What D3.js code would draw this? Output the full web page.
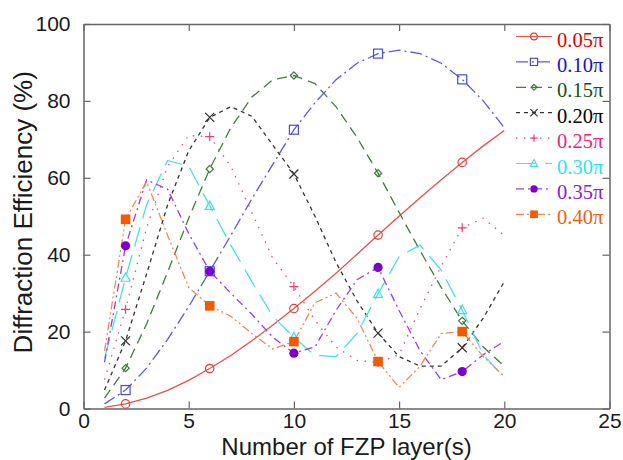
<!DOCTYPE html>
<html>
<head>
<meta charset="utf-8">
<script src="https://cdn.jsdelivr.net/npm/d3@7"></script>
<style>
  body { margin: 0; background: #fff; }
  svg { display: block; }
</style>
</head>
<body>
<svg id="chart" width="623" height="460"></svg>
<script>
// Diffraction efficiency vs number of FZP layers

// x categories and axis ticks
const layers = [1, 2, 3, 4, 5, 6, 7, 8, 9, 10, 11, 12, 13, 14, 15, 16, 17, 18, 19, 20];
const markerLayers = [2, 6, 10, 14, 18];
const xTicks = [0, 5, 10, 15, 20, 25];
const yTicks = [0, 20, 40, 60, 80, 100];
const labels = ["0.05\u03c0", "0.10\u03c0", "0.15\u03c0", "0.20\u03c0", "0.25\u03c0", "0.30\u03c0", "0.35\u03c0", "0.40\u03c0"];

// efficiency (%) per layer count, one array per phase step
const eff005 = [0.3, 1.2, 2.7, 4.7, 7.3, 10.4, 13.8, 17.6, 21.7, 26.0, 30.5, 35.2, 40.1, 45.1, 50.0, 54.8, 59.5, 64.0, 68.3, 72.3];
const eff010 = [1.2, 4.8, 10.5, 18.0, 26.5, 35.7, 45.0, 54.5, 63.5, 72.5, 79.5, 85.5, 89.8, 92.3, 93.2, 92.3, 89.8, 85.6, 80.0, 73.0];
const eff015 = [2.7, 10.5, 22.0, 35.5, 49.5, 62.3, 73.0, 81.0, 85.5, 86.6, 84.5, 78.5, 70.5, 61.2, 51.0, 41.0, 31.5, 22.8, 16.0, 11.0];
const eff020 = [4.8, 17.6, 35.0, 53.0, 67.0, 75.7, 78.5, 76.0, 68.5, 61.0, 50.0, 38.0, 28.0, 19.6, 13.5, 11.0, 11.0, 15.8, 23.5, 33.0];
const eff025 = [7.5, 25.8, 47.0, 63.0, 71.0, 70.7, 63.0, 51.0, 39.0, 31.7, 23.0, 16.0, 12.5, 12.0, 14.0, 26.0, 37.0, 47.0, 49.5, 45.0];
const eff030 = [13.0, 34.0, 53.0, 64.5, 63.0, 52.7, 42.5, 33.0, 24.0, 18.5, 13.8, 13.5, 19.5, 29.8, 39.5, 42.5, 36.0, 25.6, 14.0, 8.0];
const eff035 = [12.0, 42.3, 59.5, 57.0, 45.5, 35.7, 30.0, 24.5, 18.5, 14.4, 16.0, 25.5, 33.5, 36.7, 25.5, 15.0, 7.5, 9.6, 14.0, 17.5];
const eff040 = [15.0, 49.2, 59.0, 45.0, 31.5, 26.7, 24.0, 19.5, 15.5, 17.4, 27.5, 30.0, 23.5, 12.2, 5.5, 11.0, 19.5, 20.0, 13.5, 8.3];

const allSeries = [eff005, eff010, eff015, eff020, eff025, eff030, eff035, eff040];

// drawing styles, same order as labels
const styles = [
  { line: "#e8504a", mark: "#e0403a", text: "#dd0000", dash: null, marker: "circle" },
  { line: "#5a5ae0", mark: "#4a4ad8", text: "#1414c8", dash: "12,4,2,4", marker: "square" },
  { line: "#3f7f3f", mark: "#3a7a3a", text: "#145214", dash: "10,6", marker: "diamond" },
  { line: "#333333", mark: "#333333", text: "#000000", dash: "4,4", marker: "cross" },
  { line: "#ee4a8c", mark: "#ee3a80", text: "#ee2277", dash: "1.5,6.5", marker: "plus" },
  { line: "#48dff0", mark: "#40dcee", text: "#30e2f0", dash: "20,9", marker: "triangle" },
  { line: "#9c3ce0", mark: "#7a00d0", text: "#8a22cc", dash: "8,4,2,4", marker: "dot" },
  { line: "#f08a50", mark: "#f05a00", text: "#f06010", dash: "8,3,2,3,2,3", marker: "fsquare" }
];

const svg = d3.select("#chart");
const x = d3.scaleLinear().domain([0, 25]).range([83.5, 609.5]);
const y = d3.scaleLinear().domain([0, 100]).range([408.5, 24]);

// axes (ticks point inward on all four sides)
const axisColor = "#666";
function styleAxis(g) {
  g.select(".domain").attr("stroke", axisColor).attr("stroke-width", 1.5);
  g.selectAll(".tick line").attr("stroke", axisColor).attr("stroke-width", 1.2);
  g.selectAll(".tick text")
    .attr("fill", "#1a1a1a")
    .style("font-family", "'Liberation Sans', Arial, sans-serif")
    .style("font-size", "21px");
}

svg.append("g")
  .attr("transform", `translate(0,${y(0)})`)
  .call(d3.axisBottom(x).tickValues(xTicks).tickSize(-7).tickSizeOuter(0).tickPadding(5))
  .call(styleAxis);

svg.append("g")
  .attr("transform", `translate(0,${y(100)})`)
  .call(d3.axisTop(x).tickValues(xTicks).tickSize(-7).tickSizeOuter(0).tickFormat(""))
  .call(styleAxis);

svg.append("g")
  .attr("transform", `translate(${x(0)},0)`)
  .call(d3.axisLeft(y).tickValues(yTicks).tickSize(-7).tickSizeOuter(0).tickPadding(13))
  .call(styleAxis);

svg.append("g")
  .attr("transform", `translate(${x(25)},0)`)
  .call(d3.axisRight(y).tickValues(yTicks).tickSize(-7).tickSizeOuter(0).tickFormat(""))
  .call(styleAxis);

// axis titles
svg.append("text")
  .attr("x", (x(0) + x(25)) / 2)
  .attr("y", 455)
  .attr("text-anchor", "middle")
  .style("font-family", "'Liberation Sans', Arial, sans-serif")
  .style("font-size", "24px")
  .attr("fill", "#1a1a1a")
  .text("Number of FZP layer(s)");

svg.append("text")
  .attr("transform", `translate(32,${(y(0) + y(100)) / 2 - 4}) rotate(-90)`)
  .attr("text-anchor", "middle")
  .style("font-family", "'Liberation Sans', Arial, sans-serif")
  .style("font-size", "26px")
  .attr("fill", "#1a1a1a")
  .text("Diffraction Efficiency (%)");

// marker shapes
function drawMarker(g, type, cx, cy, color, s) {
  const k = s || 1;
  if (type === "circle") {
    g.append("circle").attr("cx", cx).attr("cy", cy).attr("r", 4.2 * k)
      .attr("fill", "none").attr("stroke", color).attr("stroke-width", 1.2);
  } else if (type === "square") {
    const h = 4.5 * k;
    g.append("rect").attr("x", cx - h).attr("y", cy - h).attr("width", 2 * h).attr("height", 2 * h)
      .attr("fill", "none").attr("stroke", color).attr("stroke-width", 1.2);
  } else if (type === "diamond") {
    const h = 3.6 * k;
    g.append("path").attr("d", `M${cx},${cy - h}L${cx + h},${cy}L${cx},${cy + h}L${cx - h},${cy}Z`)
      .attr("fill", "none").attr("stroke", color).attr("stroke-width", 1.2);
  } else if (type === "cross") {
    const h = 4.5 * k;
    g.append("path").attr("d", `M${cx - h},${cy - h}L${cx + h},${cy + h}M${cx - h},${cy + h}L${cx + h},${cy - h}`)
      .attr("stroke", color).attr("stroke-width", 1.2);
  } else if (type === "plus") {
    const h = 4.5 * k;
    g.append("path").attr("d", `M${cx - h},${cy}L${cx + h},${cy}M${cx},${cy - h}L${cx},${cy + h}`)
      .attr("stroke", color).attr("stroke-width", 1.2);
  } else if (type === "triangle") {
    const h = 5 * k;
    g.append("path").attr("d", `M${cx},${cy - h}L${cx + h * 0.9},${cy + h * 0.7}L${cx - h * 0.9},${cy + h * 0.7}Z`)
      .attr("fill", "none").attr("stroke", color).attr("stroke-width", 1.2);
  } else if (type === "dot") {
    g.append("circle").attr("cx", cx).attr("cy", cy).attr("r", 4.6 * k).attr("fill", color);
  } else if (type === "fsquare") {
    const h = 4.8 * k;
    g.append("rect").attr("x", cx - h).attr("y", cy - h).attr("width", 2 * h).attr("height", 2 * h)
      .attr("fill", color);
  }
}

// curves
const line = d3.line()
  .x((d, i) => x(layers[i]))
  .y(d => y(d));

const plot = svg.append("g");
allSeries.forEach((vals, si) => {
  const st = styles[si];
  plot.append("path")
    .datum(vals)
    .attr("d", line)
    .attr("fill", "none")
    .attr("stroke", st.line)
    .attr("stroke-width", 1.3)
    .attr("stroke-dasharray", st.dash);
});

// markers on top of all curves
allSeries.forEach((vals, si) => {
  const st = styles[si];
  const g = svg.append("g");
  markerLayers.forEach(n => {
    drawMarker(g, st.marker, x(n), y(vals[layers.indexOf(n)]), st.mark);
  });
});

// legend
const legend = svg.append("g");
labels.forEach((lab, i) => {
  const st = styles[i];
  const ly = 36.5 + i * 25.4;
  legend.append("line")
    .attr("x1", 516).attr("x2", 552).attr("y1", ly).attr("y2", ly)
    .attr("stroke", st.line).attr("stroke-width", 1.2)
    .attr("stroke-dasharray", st.dash);
  drawMarker(legend, st.marker, 534, ly, st.mark, 0.8);
  legend.append("text")
    .attr("x", 557).attr("y", ly + 10)
    .style("font-family", "'Liberation Serif', 'Times New Roman', serif")
    .style("font-size", "20.5px")
    .attr("fill", st.text)
    .text(lab);
});
</script>
</body>
</html>
